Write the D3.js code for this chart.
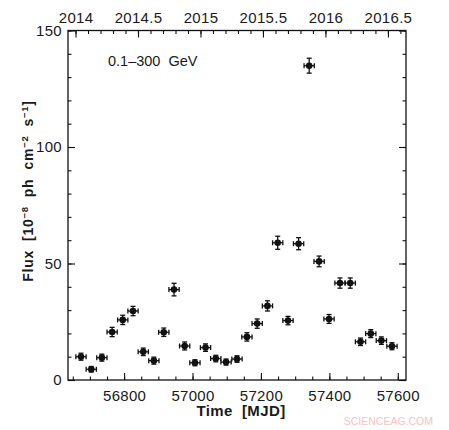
<html>
<head>
<meta charset="utf-8">
<script src="https://d3js.org/d3.v7.min.js"></script>
<style>
body {
	margin: 0;
	background: #fff;
}
text {
	font-family: "Liberation Sans", Arial, sans-serif;
	fill: #1a1a1a;
}
</style>
</head>
<body>
<div id="chart"></div>
<script>
	// monthly bins (MJD centre, half width) and flux in 1e-8 ph cm-2 s-1
	var mjd = [56674, 56704, 56735, 56765, 56796, 56826, 56856, 56887, 56916, 56946,
		56977, 57007, 57038, 57068, 57098, 57130, 57159, 57189, 57219, 57249,
		57279, 57310, 57341, 57370, 57399, 57431, 57461, 57491, 57521, 57552, 57583];
	var halfBin = [15, 15, 15, 15, 15, 15, 15, 15, 15, 15,
		15, 15, 15, 15, 15, 15, 15, 15, 15, 15,
		15, 15, 15, 15, 15, 15, 15, 15, 15, 15, 15];
	var flux = [10.0, 4.6, 9.6, 20.6, 25.8, 29.6, 12.1, 8.3, 20.5, 38.8,
		14.6, 7.4, 13.9, 9.2, 7.7, 9.0, 18.5, 24.2, 31.8, 58.9,
		25.5, 58.5, 134.9, 50.9, 26.2, 41.6, 41.6, 16.4, 19.9, 16.9, 14.5];
	var fluxErr = [1.5, 1.2, 1.5, 2.0, 2.0, 2.0, 1.6, 1.5, 1.8, 2.7,
		1.7, 1.3, 1.6, 1.4, 1.3, 1.4, 1.8, 2.0, 2.2, 2.8,
		1.8, 2.6, 3.2, 2.3, 1.9, 2.2, 2.2, 1.6, 1.7, 1.6, 1.5];

	var mjdTicks = [56800, 57000, 57200, 57400, 57600];
	var yearTicks = [2014, 2014.5, 2015, 2015.5, 2016, 2016.5];
	var fluxTicks = [0, 50, 100, 150];

	var W = 449, H = 430;
	var margin = {top: 30.5, left: 68, right: 43, bottom: 50};
	var width = W - margin.left - margin.right,
		height = H - margin.top - margin.bottom;

	var svg = d3.select("#chart").append("svg")
		.attr("width", W)
		.attr("height", H)
		.append("g")
		.attr("transform", "translate(" + margin.left + "," + margin.top + ")");

	var x = d3.scaleLinear().domain([56636, 57624]).range([0, width]);
	var y = d3.scaleLinear().domain([0, 150]).range([height, 0]);

	// calendar year on the top axis, MJD 56658 = 2014 Jan 1
	var xYear = d3.scaleLinear()
		.domain([2014 + (56636 - 56658) / 365.25, 2014 + (57624 - 56658) / 365.25])
		.range([0, width]);

	var minorMjd = d3.range(56650, 57624, 50);
	var minorYear = d3.range(2014, 2016.65, 0.1).map(d => Math.round(d * 10) / 10);
	var minorFlux = d3.range(0, 151, 10);

	function styleAxis(g) {
		g.select(".domain").remove();
		g.selectAll("line").attr("stroke", "#111").attr("stroke-width", 1.1);
		g.selectAll("text").style("font-size", "15px").style("letter-spacing", "0.3px");
	}

	// minor ticks
	svg.append("g").attr("transform", "translate(0," + height + ")")
		.call(d3.axisBottom(x).tickValues(minorMjd).tickSize(-3.5).tickFormat(""))
		.call(styleAxis);
	svg.append("g")
		.call(d3.axisTop(xYear).tickValues(minorYear).tickSize(-3.5).tickFormat(""))
		.call(styleAxis);
	svg.append("g")
		.call(d3.axisLeft(y).tickValues(minorFlux).tickSize(-3.5).tickFormat(""))
		.call(styleAxis);
	svg.append("g").attr("transform", "translate(" + width + ",0)")
		.call(d3.axisRight(y).tickValues(minorFlux).tickSize(-3.5).tickFormat(""))
		.call(styleAxis);

	// major ticks + labels
	svg.append("g").attr("transform", "translate(0," + height + ")")
		.call(d3.axisBottom(x).tickValues(mjdTicks).tickSize(-7).tickPadding(10).tickFormat(d3.format("d")))
		.call(styleAxis);
	svg.append("g")
		.call(d3.axisTop(xYear).tickValues(yearTicks).tickSize(-7).tickPadding(8).tickFormat(d => String(d)))
		.call(styleAxis);
	svg.append("g")
		.call(d3.axisLeft(y).tickValues(fluxTicks).tickSize(-7).tickPadding(6).tickFormat(d3.format("d")))
		.call(styleAxis);
	svg.append("g").attr("transform", "translate(" + width + ",0)")
		.call(d3.axisRight(y).tickValues(fluxTicks).tickSize(-7).tickFormat(""))
		.call(styleAxis);

	svg.append("rect")
		.attr("width", width)
		.attr("height", height)
		.attr("fill", "none")
		.attr("stroke", "#111")
		.attr("stroke-width", 1.3);

	var data = mjd.map((m, i) => ({t: m, dt: halfBin[i], f: flux[i], df: fluxErr[i]}));

	var pts = svg.selectAll("g.pt").data(data).enter().append("g")
		.attr("class", "pt")
		.attr("stroke", "#111")
		.attr("stroke-width", 1.3);

	// x error bars with end caps
	pts.append("line")
		.attr("x1", d => x(d.t - d.dt)).attr("x2", d => x(d.t + d.dt))
		.attr("y1", d => y(d.f)).attr("y2", d => y(d.f));
	pts.append("line")
		.attr("x1", d => x(d.t - d.dt)).attr("x2", d => x(d.t - d.dt))
		.attr("y1", d => y(d.f) - 2.5).attr("y2", d => y(d.f) + 2.5);
	pts.append("line")
		.attr("x1", d => x(d.t + d.dt)).attr("x2", d => x(d.t + d.dt))
		.attr("y1", d => y(d.f) - 2.5).attr("y2", d => y(d.f) + 2.5);
	// y error bars with caps
	pts.append("line")
		.attr("x1", d => x(d.t)).attr("x2", d => x(d.t))
		.attr("y1", d => y(d.f - d.df)).attr("y2", d => y(d.f + d.df));
	pts.append("line")
		.attr("x1", d => x(d.t) - 2.5).attr("x2", d => x(d.t) + 2.5)
		.attr("y1", d => y(d.f - d.df)).attr("y2", d => y(d.f - d.df));
	pts.append("line")
		.attr("x1", d => x(d.t) - 2.5).attr("x2", d => x(d.t) + 2.5)
		.attr("y1", d => y(d.f + d.df)).attr("y2", d => y(d.f + d.df));
	pts.append("circle")
		.attr("cx", d => x(d.t))
		.attr("cy", d => y(d.f))
		.attr("r", 3.3)
		.attr("fill", "#111")
		.attr("stroke", "none");

	// labels
	svg.append("text")
		.attr("x", 108 - margin.left)
		.attr("y", 66 - margin.top)
		.style("font-size", "14.5px")
		.attr("xml:space", "preserve")
		.text("0.1\u2013300  GeV");

	svg.append("text")
		.attr("x", 241 - margin.left)
		.attr("y", 416 - margin.top)
		.attr("text-anchor", "middle")
		.style("font-size", "15px")
		.style("font-weight", "bold")
		.style("letter-spacing", "0.4px")
		.attr("xml:space", "preserve")
		.text("Time  [MJD]");

	var ylab = svg.append("text")
		.attr("transform", "translate(" + (33 - margin.left) + "," + (191 - margin.top) + ") rotate(-90)")
		.attr("text-anchor", "middle")
		.style("font-size", "14px")
		.style("font-weight", "bold")
		.style("letter-spacing", "0.7px")
		.attr("xml:space", "preserve");
	ylab.append("tspan").text("Flux  [10");
	ylab.append("tspan").attr("dy", -5).style("font-size", "9.5px").text("\u22128");
	ylab.append("tspan").attr("dy", 5).text("  ph  cm");
	ylab.append("tspan").attr("dy", -5).style("font-size", "9.5px").text("\u22122");
	ylab.append("tspan").attr("dy", 5).text("  s");
	ylab.append("tspan").attr("dy", -5).style("font-size", "9.5px").text("\u22121");
	ylab.append("tspan").attr("dy", 5).text("]");

	// watermark from the source image
	svg.append("text")
		.attr("x", 433 - margin.left)
		.attr("y", 425 - margin.top)
		.attr("text-anchor", "end")
		.style("font-size", "10.5px")
		.style("fill", "#f2c4c4")
		.text("SCIENCEAG.COM");
</script>
</body>
</html>
